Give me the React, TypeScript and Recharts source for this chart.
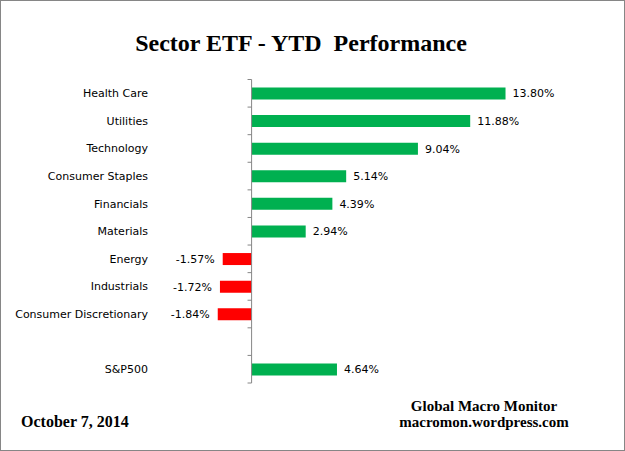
import React from 'react';
import { ComposedChart, Bar, XAxis, YAxis, ReferenceLine, LabelList, Cell } from 'recharts';

const categories = [
  'Health Care',
  'Utilities',
  'Technology',
  'Consumer Staples',
  'Financials',
  'Materials',
  'Energy',
  'Industrials',
  'Consumer Discretionary',
  '',
  'S&P500',
];
const values: (number | null)[] = [13.8, 11.88, 9.04, 5.14, 4.39, 2.94, -1.57, -1.72, -1.84, null, 4.64];
const categoryTicks = [0, 1, 2, 3, 4, 5, 6, 7, 8, 9, 10];
const tickBoundaries = [-0.5, 0.5, 1.5, 2.5, 3.5, 4.5, 5.5, 6.5, 7.5, 8.5, 9.5, 10.5];
const xDomain: [number, number] = [-4, 16];
const yDomain: [number, number] = [-0.5, 10.5];

const data = categories.map((name, i) => ({ name, value: values[i], idx: i }));

const GREEN = '#00B050';
const RED = '#FF0000';
const AXIS = '#868686';
const SANS = '"DejaVu Sans", Verdana, sans-serif';
const SERIF = '"Liberation Serif", "Times New Roman", serif';

const renderLabel = (props: any) => {
  const { x, y, width, height, value } = props;
  if (value == null) return null;
  const neg = value < 0;
  const a = Number(x);
  const b = Number(x) + Number(width);
  const end = neg ? Math.min(a, b) : Math.max(a, b);
  return (
    <text
      x={neg ? end - 8 : end + 7}
      y={Number(y) + Number(height) / 2}
      dy="0.36em"
      textAnchor={neg ? 'end' : 'start'}
      fontSize={11}
      fontFamily={SANS}
      fill="#000"
    >
      {Number(value).toFixed(2)}%
    </text>
  );
};

export default function App() {
  return (
    <div style={{ position: 'absolute', left: 0, top: 0, width: 625, height: 451, background: '#fff' }}>
      <ComposedChart
        width={625}
        height={451}
        data={data}
        layout="vertical"
        margin={{ top: 79.5, right: 79, bottom: 68, left: 0 }}
      >
        <XAxis type="number" domain={xDomain} hide />
        <YAxis
          type="number"
          dataKey="idx"
          domain={yDomain}
          ticks={categoryTicks}
          tickFormatter={(v: number) => categories[v] ?? ''}
          width={178}
          interval={0}
          axisLine={false}
          tickLine={false}
          tickSize={0}
          tickMargin={30}
          tick={{ fontSize: 11, fontFamily: SANS, fill: '#000' }}
        />
        <Bar dataKey="value" barSize={12} isAnimationActive={false}>
          {data.map((d, i) => (
            <Cell key={i} fill={d.value != null && d.value < 0 ? RED : GREEN} />
          ))}
          <LabelList dataKey="value" content={renderLabel} />
        </Bar>
        <ReferenceLine x={0} stroke={AXIS} strokeWidth={1} />
        {tickBoundaries.map((b, i) => (
          <ReferenceLine
            key={'t' + i}
            segment={[{ x: -0.22, y: b }, { x: 0, y: b }]}
            stroke={AXIS}
            strokeWidth={1}
            ifOverflow="visible"
          />
        ))}
        <text x={301} y={51} textAnchor="middle" fontFamily={SERIF} fontWeight="bold" fontSize={24} fill="#000" style={{ whiteSpace: 'pre' }}>
          {'Sector ETF - YTD  Performance'}
        </text>
        <text x={21} y={427} fontFamily={SERIF} fontWeight="bold" fontSize={16} fill="#000">
          October 7, 2014
        </text>
        <text x={484} y={411} textAnchor="middle" fontFamily={SERIF} fontWeight="bold" fontSize={15} fill="#000">
          Global Macro Monitor
        </text>
        <text x={484} y={427} textAnchor="middle" fontFamily={SERIF} fontWeight="bold" fontSize={15} fill="#000">
          macromon.wordpress.com
        </text>
      </ComposedChart>
      <div
        style={{
          position: 'absolute',
          left: 0,
          top: 0,
          width: 625,
          height: 451,
          boxSizing: 'border-box',
          border: '1px solid #868686',
          pointerEvents: 'none',
        }}
      />
    </div>
  );
}
